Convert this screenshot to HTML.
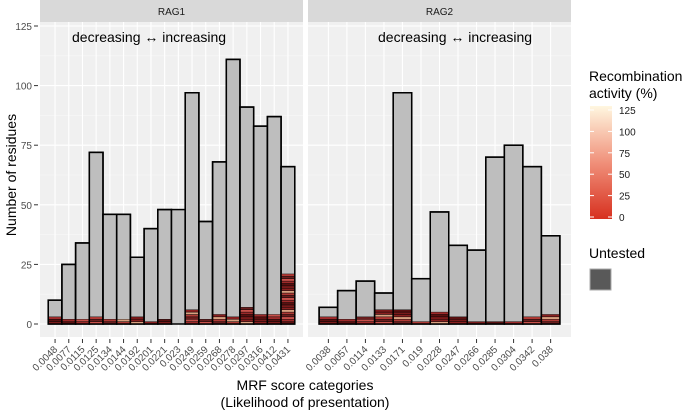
<!DOCTYPE html>
<html><head><meta charset="utf-8"><style>
body{margin:0;background:#fff;font-family:"Liberation Sans",sans-serif}
svg text{font-family:"Liberation Sans",sans-serif}
</style></head><body>
<svg id="c" width="685" height="410" xmlns="http://www.w3.org/2000/svg"></svg>
<script>
const cats1=["0.0048","0.0077","0.0115","0.0125","0.0134","0.0144","0.0192","0.0201","0.0221","0.023","0.0249","0.0259","0.0268","0.0278","0.0297","0.0316","0.0412","0.0431"];
const totals1=[10,25,34,72,46,46,28,40,48,48,97,43,68,111,91,83,87,66];
const tested1=[3,2,2,3,2,2,3,1,2,0,6,2,4,3,7,4,4,21];
const cats2=["0.0038","0.0057","0.0114","0.0133","0.0171","0.019","0.0228","0.0247","0.0266","0.0285","0.0304","0.0342","0.038"];
const totals2=[7,14,18,13,97,19,47,33,31,70,75,66,37];
const tested2=[3,2,3,6,6,1,5,3,1,1,1,3,4];
const yTicks=[0,25,50,75,100,125];
const legendTicks=[0,25,50,75,100,125];
const palette=["#7a1a1a","#5a1010","#9e2a2a","#c8504a","#6b1e1e","#b03a35","#d9a080","#8a2020"];
const svg=document.getElementById('c');
const NS="http://www.w3.org/2000/svg";
function mk(t,a,p){const e=document.createElementNS(NS,t);for(const k in a)e.setAttribute(k,a[k]);(p||svg).appendChild(e);return e;}
const y0=324,yTop=26;
function y(v){return y0-(v/125)*(y0-yTop);}
yTicks.forEach(v=>{
  const t=mk('text',{x:32,y:y(v)+4,'text-anchor':'end','font-size':10,fill:'#4d4d4d'});t.textContent=v;
  
  
  mk('line',{x1:34,x2:38,y1:y(v),y2:y(v),stroke:'#333'});
});
const yt=mk('text',{x:0,y:0,'font-size':14,'text-anchor':'middle',transform:'translate(16,175) rotate(-90)'});yt.textContent='Number of residues';


function panel(x0,x1,cats,totals,tested,name,tx){
  const g=mk('g',{});
  
  
  mk('rect',{x:x0,y:0,width:x1-x0,height:22,fill:'#d9d9d9'},g);
  const st=mk('text',{x:(x0+x1)/2,y:15,'text-anchor':'middle','font-size':10,fill:'#1a1a1a'},g);st.textContent=name;
  
  
  mk('rect',{x:x0,y:22,width:x1-x0,height:315,fill:'#f0f0f0'},g);
  const n=cats.length,u=(x1-x0)/(n+1.2);
  const cx=i=>x0+u*(0.6+i+0.5);
  for(let v=12.5;v<=125;v+=25) mk('line',{x1:x0,x2:x1,y1:y(v),y2:y(v),stroke:'#f8f8f8','stroke-width':0.6},g);
  yTicks.forEach(v=>mk('line',{x1:x0,x2:x1,y1:y(v),y2:y(v),stroke:'#fff','stroke-width':1.1},g));
  cats.forEach((c,i)=>mk('line',{x1:cx(i),x2:cx(i),y1:22,y2:337,stroke:'#fff','stroke-width':1.1},g));
  cats.forEach((c,i)=>{
    const bx=cx(i)-u/2;
    const b=mk('rect',{x:bx,y:y(totals[i]),width:u,height:y(0)-y(totals[i]),fill:'#bebebe',stroke:'#000','stroke-width':1.5},g);
    
    
    for(let k=0;k<tested[i];k++){
      const s=mk('rect',{x:bx,y:y(k+1),width:u,height:y(k)-y(k+1),fill:palette[(k+i)%palette.length],stroke:'#000','stroke-width':0.4},g);
      
      
    }
    if(tested[i]>0) mk('rect',{x:bx,y:y(totals[i]),width:u,height:y(0)-y(totals[i]),fill:'none',stroke:'#000','stroke-width':1.5},g);
    mk('line',{x1:cx(i),x2:cx(i),y1:339,y2:343,stroke:'#333'},g);
    const l=mk('text',{x:0,y:0,'text-anchor':'end','font-size':10,fill:'#4d4d4d',transform:`translate(${cx(i)+3},${350}) rotate(-45)`},g);l.textContent=c;
    
    
  });
  const a=mk('text',{x:tx,y:42,'font-size':14,fill:'#000'},g);a.textContent='decreasing ↔ increasing';
  
  
}
panel(40,303,cats1,totals1,tested1,'RAG1',72);
panel(308,571,cats2,totals2,tested2,'RAG2',378);
const xt1=mk('text',{x:305,y:390,'text-anchor':'middle','font-size':14});xt1.textContent='MRF score categories';


const xt2=mk('text',{x:305,y:407,'text-anchor':'middle','font-size':14});xt2.textContent='(Likelihood of presentation)';


const lg=mk('g',{});


const t1=mk('text',{x:589,y:81,'font-size':14},lg);t1.textContent='Recombination';
const t2=mk('text',{x:589,y:98,'font-size':14},lg);t2.textContent='activity (%)';
const defs=mk('defs',{},lg);const gr=mk('linearGradient',{id:'gr',x1:0,y1:1,x2:0,y2:0},defs);
mk('stop',{offset:0,'stop-color':'#d7301f'},gr);mk('stop',{offset:0.5,'stop-color':'#f0907a'},gr);mk('stop',{offset:1,'stop-color':'#fff7e0'},gr);
const cb=mk('rect',{x:590,y:106,width:22,height:113,fill:'url(#gr)'},lg);


legendTicks.forEach(v=>{
  const yy=217-(v/125)*107;
  mk('line',{x1:590,x2:594,y1:yy,y2:yy,stroke:'#fff'},lg);mk('line',{x1:608,x2:612,y1:yy,y2:yy,stroke:'#fff'},lg);
  const t=mk('text',{x:619,y:yy+4,'font-size':10,fill:'#1a1a1a'},lg);t.textContent=v;
});
const ut=mk('text',{x:589,y:258,'font-size':14},lg);ut.textContent='Untested';
const ub=mk('rect',{x:590,y:269,width:21,height:21,fill:'#595959',stroke:'#aaa','stroke-width':1},lg);


</script>
</body></html>
